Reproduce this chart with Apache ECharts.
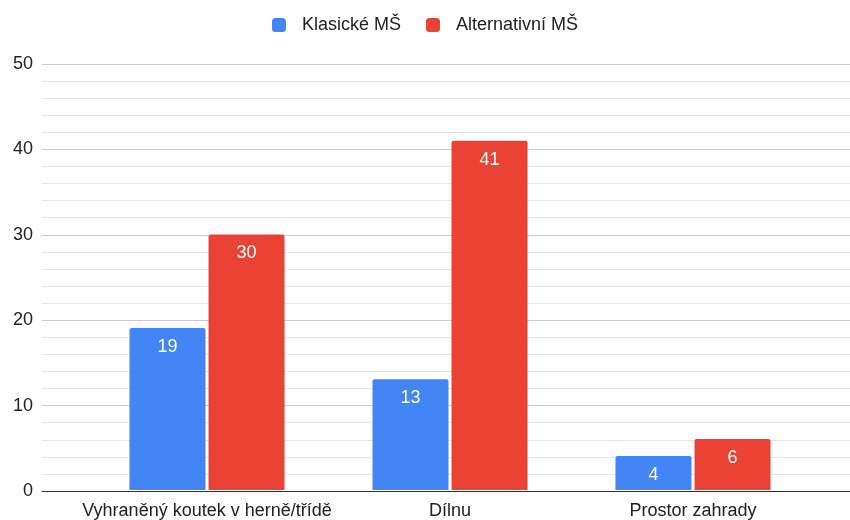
<!DOCTYPE html>
<html>
<head>
<meta charset="utf-8">
<script src="https://cdn.jsdelivr.net/npm/echarts@6/dist/echarts.min.js"></script>
<style>
html,body{margin:0;padding:0;background:#fff;}
#chart{width:850px;height:520px;}
</style>
</head>
<body>
<div id="chart"></div>
<script>
var categories = ['Vyhraněný koutek v herně/třídě', 'Dílnu', 'Prostor zahrady'];
var klasicke = [19, 13, 4];
var alternativni = [30, 41, 6];
var seriesNames = ['Klasické MŠ', 'Alternativní MŠ'];
var colors = ['#4285f4', '#ea4335'];

var chart = echarts.init(document.getElementById('chart'));
var font = 'Liberation Sans, Arial, sans-serif';

function barLabel() {
	return { show: true, position: 'insideTop', distance: 10, color: '#fff', fontSize: 18, fontFamily: font };
}

chart.setOption({
	animation: false,
	textStyle: { fontFamily: font },
	legend: {
		top: 11, left: 'center', itemWidth: 14, itemHeight: 14, itemGap: 25,
		icon: 'roundRect',
		textStyle: { fontSize: 18, color: '#222', fontFamily: font, padding: [0, 0, 0, 11] },
		data: seriesNames
	},
	grid: [
		{ left: 42, right: 0, top: 64, bottom: 29 },//背景网格
		{ left: 85.5, right: 35.5, top: 64, bottom: 29 }//柱子
	],
	xAxis: [
		{ gridIndex: 0, type: 'value', min: 0, max: 1, axisLine: { show: true, onZero: false, lineStyle: { color: '#333', width: 1 } }, axisTick: { show: false }, axisLabel: { show: false }, splitLine: { show: false } },
		{ gridIndex: 1, type: 'category', data: categories, axisLine: { show: false }, axisTick: { show: false },
			axisLabel: { color: '#222', fontSize: 18, margin: 12, fontFamily: font, interval: 0 } }
	],
	yAxis: [
		{ gridIndex: 0, type: 'value', min: 0, max: 50, interval: 10,
			axisLine: { show: false }, axisTick: { show: false },
			axisLabel: { color: '#222', fontSize: 18, margin: 9, fontFamily: font },
			splitLine: { lineStyle: { color: '#cccccc', width: 1 } },
			minorTick: { show: false, splitNumber: 5 },
			minorSplitLine: { show: true, lineStyle: { color: '#e6e6e6', width: 1 } } },
		{ gridIndex: 1, type: 'value', min: 0, max: 50, show: false, splitLine: { show: false } }
	],
	series: [
		{ name: seriesNames[0], type: 'bar', xAxisIndex: 1, yAxisIndex: 1, data: klasicke, barWidth: 76, barGap: '4%',
			itemStyle: { color: colors[0], borderRadius: [2, 2, 0, 0] }, label: barLabel() },
		{ name: seriesNames[1], type: 'bar', xAxisIndex: 1, yAxisIndex: 1, data: alternativni, barWidth: 76, barGap: '4%',
			itemStyle: { color: colors[1], borderRadius: [2, 2, 0, 0] }, label: barLabel() }
	]
});
</script>
</body>
</html>
